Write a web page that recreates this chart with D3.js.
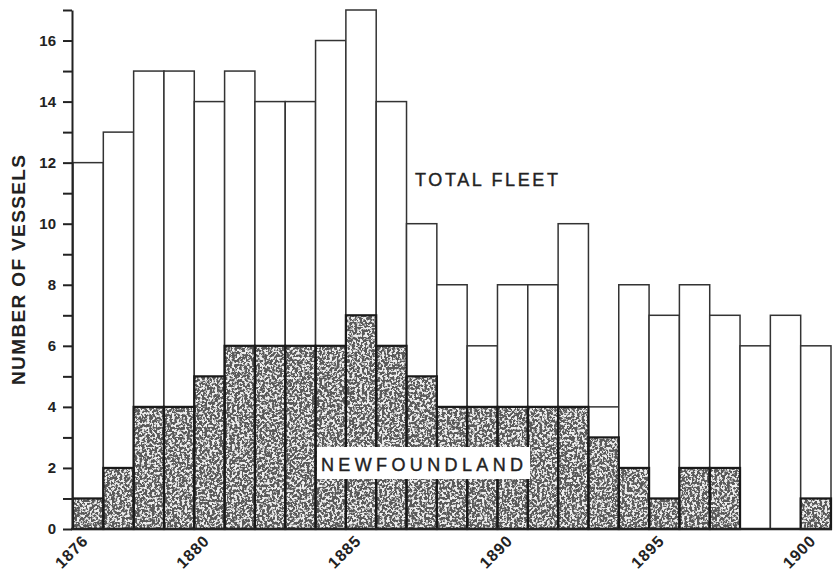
<!DOCTYPE html>
<html>
<head>
<meta charset="utf-8">
<script src="https://cdn.jsdelivr.net/npm/d3@7"></script>
<style>
  body { margin: 0; background: #fff; }
  svg text { font-family: "Liberation Sans", Arial, sans-serif; fill: #222; }
  .axis path, .axis line { stroke: #222; }
  .axis text { font-size: 15px; font-weight: bold; }
</style>
</head>
<body>
<div id="chart-container"></div>
<script>
const years = d3.range(1876, 1901);
const totalFleet = [12, 13, 15, 15, 14, 15, 14, 14, 16, 17, 14, 10, 8, 6, 8, 8, 10, 4, 8, 7, 8, 7, 6, 7, 6];
const newfoundland = [1, 2, 4, 4, 5, 6, 6, 6, 6, 7, 6, 5, 4, 4, 4, 4, 4, 3, 2, 1, 2, 2, 0, 0, 1];
const labelledYears = [1876, 1880, 1885, 1890, 1895, 1900];

const svgWidth = 833, svgHeight = 578;
const plotLeft = 73, plotRight = 831, plotTop = 10, plotBottom = 529;

const svg = d3.select("#chart-container").append("svg")
    .attr("width", svgWidth)
    .attr("height", svgHeight);

// speckled texture for the Newfoundland part
const defs = svg.append("defs");
const filter = defs.append("filter")
    .attr("id", "speckle")
    .attr("x", 0).attr("y", 0).attr("width", 1).attr("height", 1);
filter.append("feTurbulence")
    .attr("type", "fractalNoise")
    .attr("baseFrequency", 0.4)
    .attr("numOctaves", 3)
    .attr("seed", 4)
    .attr("result", "noise");
filter.append("feColorMatrix")
    .attr("in", "noise")
    .attr("type", "matrix")
    .attr("values", "0 0 0 0 0.1  0 0 0 0 0.1  0 0 0 0 0.1  -8 0 0 0 4.8")
    .attr("result", "dots");
filter.append("feFlood").attr("flood-color", "#eeeeee").attr("result", "paper");
filter.append("feComposite").attr("in", "dots").attr("in2", "paper").attr("operator", "over");

const x = d3.scaleBand()
    .domain(years)
    .range([plotLeft, plotRight])
    .padding(0);

const y = d3.scaleLinear()
    .domain([0, 17])
    .range([plotBottom, plotTop]);

// total fleet bars
svg.append("g").selectAll("rect")
    .data(years)
    .join("rect")
    .attr("x", d => x(d))
    .attr("y", (d, i) => y(totalFleet[i]))
    .attr("width", x.bandwidth())
    .attr("height", (d, i) => y(0) - y(totalFleet[i]))
    .attr("fill", "#fff")
    .attr("stroke", "#333")
    .attr("stroke-width", 1.5);

// newfoundland part: textured area clipped to the bars
const clip = defs.append("clipPath").attr("id", "nfClip");
clip.selectAll("rect")
    .data(years)
    .join("rect")
    .attr("x", d => x(d))
    .attr("y", (d, i) => y(newfoundland[i]))
    .attr("width", x.bandwidth())
    .attr("height", (d, i) => y(0) - y(newfoundland[i]));

svg.append("rect")
    .attr("x", plotLeft)
    .attr("y", y(8))
    .attr("width", plotRight - plotLeft)
    .attr("height", y(0) - y(8))
    .attr("filter", "url(#speckle)")
    .attr("clip-path", "url(#nfClip)");

svg.append("g").selectAll("rect")
    .data(years.filter((d, i) => newfoundland[i] > 0))
    .join("rect")
    .attr("x", d => x(d))
    .attr("y", d => y(newfoundland[years.indexOf(d)]))
    .attr("width", x.bandwidth())
    .attr("height", d => y(0) - y(newfoundland[years.indexOf(d)]))
    .attr("fill", "none")
    .attr("stroke", "#1a1a1a")
    .attr("stroke-width", 2.2);

// axes
const yAxis = svg.append("g")
    .attr("class", "axis")
    .attr("transform", `translate(${plotLeft - 1},0)`)
    .call(d3.axisLeft(y)
        .tickValues(d3.range(0, 18))
        .tickFormat(d => d % 2 === 0 ? d : "")
        .tickSize(9)
        .tickSizeOuter(0)
        .tickPadding(7));
yAxis.select(".domain").attr("stroke-width", 2);
yAxis.selectAll(".tick line").attr("stroke-width", 2);

const xAxis = svg.append("g")
    .attr("class", "axis")
    .attr("transform", `translate(0,${plotBottom})`)
    .call(d3.axisBottom(x)
        .tickValues(labelledYears)
        .tickSize(0)
        .tickSizeOuter(0)
        .tickPadding(0));
xAxis.select(".domain").attr("stroke-width", 2.5).attr("d", `M${plotLeft - 2},0H${plotRight + 1}`);
xAxis.selectAll(".tick text")
    .style("font-size", "16px")
    .style("letter-spacing", "0.8px")
    .attr("text-anchor", "end")
    .attr("dy", 0)
    .attr("transform", "translate(1,13) rotate(-45)");

// labels
svg.append("text")
    .attr("transform", `translate(25, 270) rotate(-90)`)
    .attr("text-anchor", "middle")
    .attr("textLength", 230)
    .attr("lengthAdjust", "spacing")
    .style("font-size", "19px")
    .style("font-weight", "bold")
    .text("NUMBER OF VESSELS");

svg.append("text")
    .attr("x", 415)
    .attr("y", 186)
    .attr("textLength", 143)
    .attr("lengthAdjust", "spacing")
    .style("font-size", "18px")
    .style("stroke", "#222")
    .style("stroke-width", 0.4)
    .text("TOTAL FLEET");

svg.append("rect")
    .attr("x", 317)
    .attr("y", 447)
    .attr("width", 213)
    .attr("height", 32)
    .attr("fill", "#fff");

svg.append("text")
    .attr("x", 321)
    .attr("y", 471)
    .attr("textLength", 202)
    .attr("lengthAdjust", "spacing")
    .style("font-size", "18px")
    .style("stroke", "#222")
    .style("stroke-width", 0.4)
    .text("NEWFOUNDLAND");
</script>
</body>
</html>
